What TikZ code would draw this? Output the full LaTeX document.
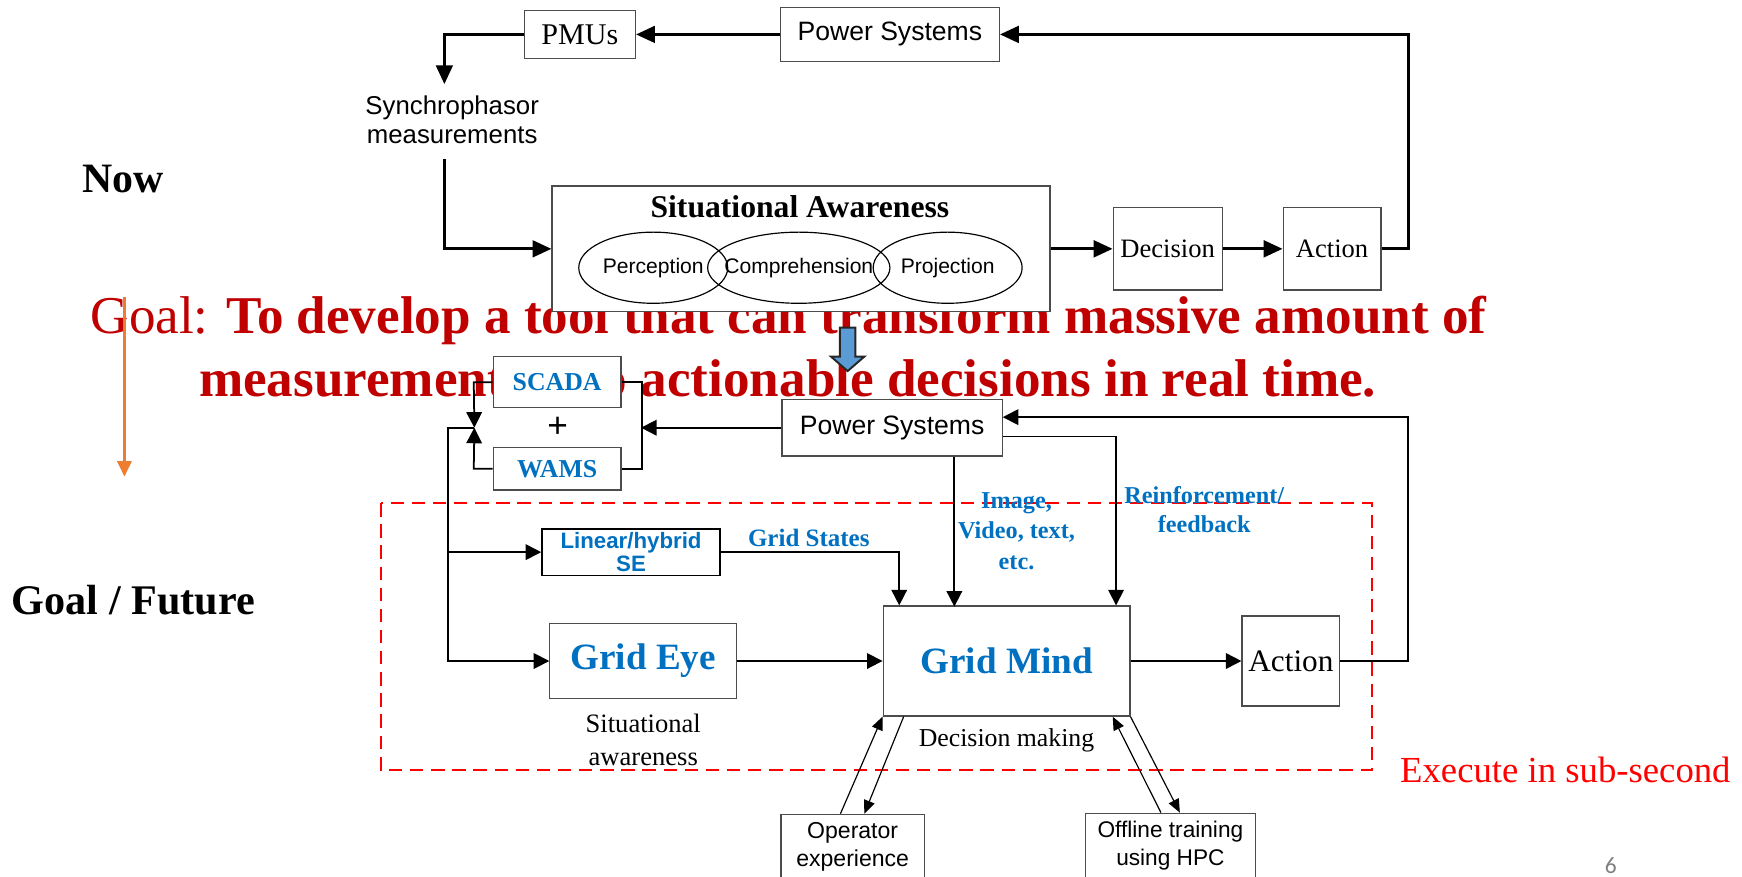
\documentclass[tikz,border=0pt]{standalone}
\usepackage{fontspec}
\setmainfont{Liberation Serif}
\setsansfont{Liberation Sans}
\newfontfamily\slidefont{Carlito}
\usepackage{xcolor}
\usetikzlibrary{arrows.meta}
\usetikzlibrary{positioning, shapes.geometric}
\definecolor{goalred}{HTML}{C00000}
\definecolor{gridblue}{HTML}{0070C0}
\definecolor{orangeln}{HTML}{ED7D31}
\definecolor{blockblue}{HTML}{5B9BD5}
\newcommand{\fs}[2]{\fontsize{#1}{#2}\selectfont}

\begin{document}
\begin{tikzpicture}[x=0.01cm, y=-0.01cm,
    box/.style={draw=black!70, line width=0.3pt, fill=white, inner sep=0pt, align=center},
    fat/.style={line width=0.75pt, -{Triangle[length=0.17cm, width=0.15cm]}},
    arr/.style={line width=0.45pt, -{Triangle[length=0.14cm, width=0.14cm]}},
    slim/.style={line width=0.3pt, -{Triangle[length=0.12cm, width=0.1cm]}},
    lbl/.style={font=\fs{6.2}{7.6}\bfseries, text=gridblue, align=center, inner sep=0pt}]
    \useasboundingbox (0,0) rectangle (1568,789);

    \node[anchor=base, font=\fs{13.6}{16}, text=goalred, inner sep=0pt] (goal1) at (710,300) {Goal: \textbf{To develop a tool that can transform massive amount of}};
    \node[anchor=base, font=\fs{13.6}{16}\bfseries, text=goalred, inner sep=0pt] (goal2) at (709,357) {measurements into actionable decisions in real time.};

    \node[font=\fs{10.7}{12}\bfseries] (now) at (111,161) {Now};
    \node[font=\fs{10.8}{12}\bfseries] (future) at (120,540) {Goal / Future};

    % now
    \node[box, minimum width=1cm, minimum height=0.43cm, font=\fs{7.7}{9}] (pmu) at (522,31) {PMUs};
    \node[box, minimum width=1.97cm, minimum height=0.48cm, font=\fs{6.8}{8}\sffamily] (ps1) at (801,31) {Power Systems};
    \node[align=center, font=\fs{6.6}{7.4}\sffamily, inner sep=0pt] (syn) at (407,108) {Synchrophasor\\measurements};
    \node[box, minimum width=4.48cm, minimum height=1.13cm] (sa) at (721,224) {};
    \node[font=\fs{8.1}{9}\bfseries] (satitle) at (720,186) {Situational Awareness};
    \node[font=\fs{5.4}{6}\sffamily, inner sep=0pt] (perc) at (588,241) {Perception};
    \node[font=\fs{5.4}{6}\sffamily, inner sep=0pt] (comp) at (719,241) {Comprehension};
    \node[font=\fs{5.4}{6}\sffamily, inner sep=0pt] (proj) at (853,241) {Projection};
    \draw[line width=0.3pt] (perc) ellipse [x radius=0.67cm, y radius=0.32cm];
    \draw[line width=0.3pt] (comp) ellipse [x radius=0.82cm, y radius=0.32cm];
    \draw[line width=0.3pt] (proj) ellipse [x radius=0.67cm, y radius=0.32cm];
    \node[box, minimum width=0.98cm, minimum height=0.74cm, font=\fs{6.8}{8}] (dec) at (1051,224) {Decision};
    \node[box, minimum width=0.88cm, minimum height=0.74cm, font=\fs{6.8}{8}] (act1) at (1199,224) {Action};

    \draw[fat] (ps1) -- (pmu);
    \draw[fat] (pmu.west) -| ([xshift=-0.07cm, yshift=0.1cm]syn.north);
    \draw[fat] ([xshift=-0.07cm, yshift=-0.13cm]syn.south) |- (sa.west);
    \draw[fat] (sa.east) -- (dec.west);
    \draw[fat] (dec) -- (act1);
    \draw[fat] (act1.east) -- ++(24,0) |- (ps1.east);

    % goal / future
    \draw[red, line width=0.45pt, dash pattern=on 0.12cm off 0.07cm] (343,453) rectangle (1235,693);

    \node[box, minimum width=1.15cm, minimum height=0.46cm, font=\fs{6.6}{8}\bfseries, text=gridblue] (scada) at (501.5,344) {SCADA};
    \node[font=\fs{9}{10}\sffamily, inner sep=0pt] (plus) at (502,385) {+};
    \node[box, minimum width=1.15cm, minimum height=0.38cm, font=\fs{6.6}{8}\bfseries, text=gridblue] (wams) at (501.5,422) {WAMS};
    \node[box, minimum width=1.98cm, minimum height=0.51cm, font=\fs{6.8}{8}\sffamily] (ps2) at (803,385) {Power Systems};
    \node[box, draw=black, line width=0.45pt, minimum width=1.6cm, minimum height=0.42cm, font=\fs{5.7}{5.9}\sffamily\bfseries, text=gridblue] (se) at (568,497) {Linear/hybrid\\SE};
    \node[box, minimum width=1.68cm, minimum height=0.67cm, font=\fs{9.5}{11}\bfseries, text=gridblue] (eye) at (579,595) {Grid Eye};
    \node[box, minimum width=2.22cm, minimum height=0.99cm, font=\fs{9.5}{11}\bfseries, text=gridblue] (mind) at (906,595) {Grid Mind};
    \node[box, minimum width=0.88cm, minimum height=0.81cm, font=\fs{8}{9}] (act2) at (1162,595) {Action};
    \node[box, minimum width=1.29cm, minimum height=0.58cm, font=\fs{5.9}{7.1}\sffamily] (oper) at (767.5,762) {Operator\\experience};
    \node[box, minimum width=1.53cm, minimum height=0.58cm, font=\fs{5.8}{7.1}\sffamily] (off) at (1053.5,761) {Offline training\\using HPC};

    \coordinate (lb) at (427,385);
    \coordinate (rb) at (577,385);
    \draw[arr] (scada.west) -- ++(-17,0) -- (lb);
    \draw[arr] (wams.west) -- ++(-17,0) -- (lb);
    \draw[line width=0.45pt] (scada.east) -- ++(18,0) |- (wams.east);
    \draw[arr] (ps2.west) -- (rb);
    \draw[arr] (lb) -- ++(-24,0) |- (se.west);
    \draw[arr] (lb) -- ++(-24,0) |- (eye.west);
    \draw[arr] (se.east) -| ([xshift=0.15cm]mind.north west);
    \draw[arr] ([xshift=0.56cm]ps2.south) -- ++(0,135);
    \draw[arr] ([yshift=-0.08cm]ps2.east) -| ([xshift=-0.13cm]mind.north east);
    \draw[arr] (eye) -- (mind);
    \draw[arr] (mind) -- (act2);
    \draw[arr] (act2.east) -- ++(61,0) |- ([yshift=0.095cm]ps2.east);
    \draw[slim] ([xshift=-0.11cm]oper.north) -- (mind.south west);
    \draw[slim] ([xshift=0.19cm]mind.south west) -- ([xshift=0.105cm]oper.north);
    \draw[slim] ([xshift=-0.085cm]off.north) -- ([xshift=-0.16cm]mind.south east);
    \draw[slim] (mind.south east) -- ([xshift=0.085cm]off.north);

    \node[lbl, font=\fs{6.4}{7.6}\bfseries] (gs) at (728,484) {Grid States};
    \node[lbl, font=\fs{6.2}{7.8}\bfseries] (img) at (915,478) {Image,\\Video, text,\\etc.};
    \node[lbl, font=\fs{6.2}{7.4}\bfseries] (rein) at (1084,459) {Reinforcement/\\feedback};
    \node[font=\fs{6.8}{8.3}, align=center, inner sep=0pt] (saw) at (579,666) {Situational\\awareness};
    \node[font=\fs{6.6}{8}, inner sep=0pt] (dm) at (906,666) {Decision making};
    \node[font=\fs{9.4}{11}, text=red, inner sep=0pt] (exe) at (1409,693) {Execute in sub-second};
    \node[font=\fs{6}{7}\slidefont, text=gray, inner sep=0pt] (pg) at (1450,779) {6};

    % arrows between the two pictures
    \draw[fill=blockblue, draw=black!85, line width=0.5pt] (756,295) -- (770,295) -- (770,321) -- (778,321) -- (763,334) -- (748,321) -- (756,321) -- cycle;
    \coordinate (otop) at (112,267);
    \coordinate (obot) at (112,429);
    \draw[orangeln, line width=0.55pt, -{Triangle[length=0.14cm, width=0.13cm]}] (otop) -- (obot);
\end{tikzpicture}
\end{document}
